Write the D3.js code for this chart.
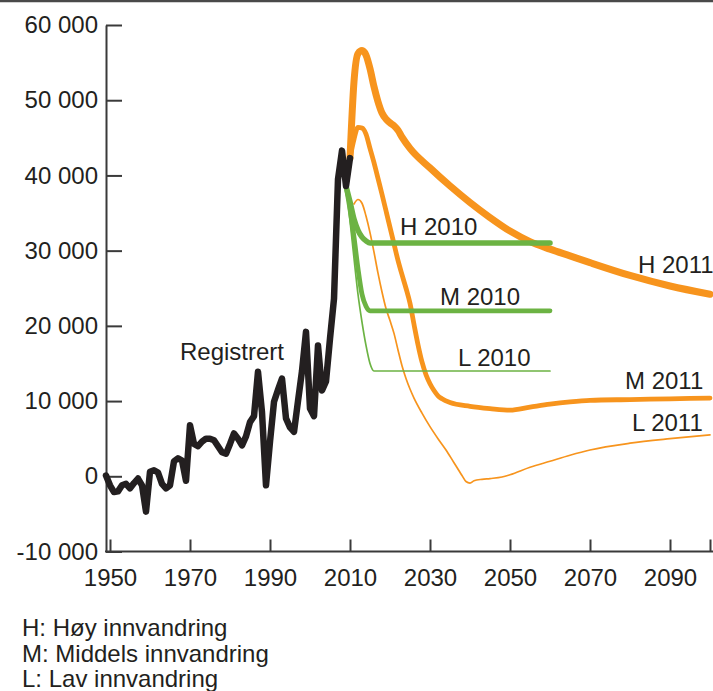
<!DOCTYPE html>
<html>
<head>
<meta charset="utf-8">
<script src="https://cdn.jsdelivr.net/npm/d3@7"></script>
<style>
  body { margin: 0; background: #fff; }
  svg { display: block; font-family: "Liberation Sans", Arial, sans-serif; }
  .lbl { font-size: 24px; fill: #231f20; }
  .axis text { font-size: 24px; fill: #231f20; font-family: "Liberation Sans", Arial, sans-serif; }
  .axis line, .axis path { stroke: #3a3a3a; stroke-width: 2; }
</style>
</head>
<body>
<div class="graph"></div>
<script>
// Nettoinnvandring, registrert og framskrevet

var registrert = [[1949, 100], [1950, -1200], [1951, -2100], [1952, -2000], [1953, -1200], [1954, -1000],
    [1955, -1600], [1956, -900], [1957, -300], [1958, -1200], [1959, -4700], [1960, 600], [1961, 800],
    [1962, 500], [1963, -1000], [1964, -1600], [1965, -1200], [1966, 2000], [1967, 2400], [1968, 2100],
    [1969, -600], [1970, 6800], [1971, 4300], [1972, 4000], [1973, 4600], [1974, 5000], [1975, 5000],
    [1976, 4800], [1977, 4000], [1978, 3200], [1979, 3000], [1980, 4300], [1981, 5700], [1982, 5000],
    [1983, 4100], [1984, 5300], [1985, 7200], [1986, 8000], [1987, 13900], [1988, 8500], [1989, -1200],
    [1990, 4600], [1991, 9900], [1992, 11500], [1993, 13000], [1994, 7700], [1995, 6500], [1996, 5900],
    [1997, 10000], [1998, 14000], [1999, 19200], [2000, 9000], [2001, 8000], [2002, 17400], [2003, 11400],
    [2004, 12600], [2005, 18300], [2006, 23600], [2007, 39500], [2008, 43300], [2009, 38600], [2010, 42300]];

var hoy2011 = [[2010, 42300], [2011, 52500], [2012, 56200], [2013, 56600], [2014, 56000], [2015, 54200],
    [2016, 51800], [2017, 49800], [2018, 48300], [2019, 47500], [2020, 47000], [2021, 46600], [2022, 46000],
    [2023, 45100], [2025, 43600], [2030, 41000], [2035, 38600], [2040, 36400], [2045, 34400], [2050, 32600],
    [2055, 31200], [2060, 30200], [2065, 29300], [2070, 28400], [2080, 26700], [2090, 25300], [2100, 24200]];

var middels2011 = [[2010, 42300], [2011, 44800], [2012, 46400], [2013, 46300], [2014, 45500], [2015, 43600],
    [2016, 41700], [2017, 39600], [2018, 37500], [2019, 35300], [2020, 33100], [2021, 30900], [2022, 28700],
    [2023, 26800], [2024, 25000], [2025, 23000], [2026, 20200], [2027, 17500], [2028, 15200], [2029, 13500],
    [2030, 12300], [2031, 11400], [2032, 10700], [2033, 10300], [2035, 9800], [2040, 9300], [2045, 9000],
    [2050, 8800], [2055, 9200], [2060, 9600], [2065, 9900], [2070, 10100], [2080, 10200], [2090, 10300],
    [2100, 10400]];

var lav2011 = [[2011, 36200], [2012, 36800], [2013, 36300], [2014, 34600], [2015, 32400], [2016, 29800],
    [2017, 27000], [2018, 24500], [2019, 22300], [2020, 20700], [2021, 19000], [2022, 16800], [2023, 14700],
    [2024, 13000], [2025, 11600], [2026, 10400], [2028, 8400], [2030, 6600], [2032, 5000], [2034, 3500],
    [2036, 1800], [2038, 100], [2039, -700], [2040, -900], [2041, -600], [2043, -400], [2045, -300],
    [2048, -100], [2050, 200], [2055, 1200], [2060, 2000], [2065, 2800], [2070, 3500], [2080, 4400],
    [2090, 5000], [2100, 5500]];

var hoy2010 = [[2009, 38600], [2010, 36500], [2011, 34200], [2012, 32700], [2013, 31800], [2014, 31300],
    [2015, 31000], [2060, 31000]];
var middels2010 = [[2009, 38600], [2010, 35500], [2011, 31800], [2012, 27600], [2013, 24200], [2014, 22600],
    [2015, 22000], [2060, 22000]];
var lav2010 = [[2009, 38600], [2010, 34000], [2011, 29000], [2012, 24200], [2013, 20500], [2014, 17400],
    [2015, 15000], [2016, 14000], [2060, 14000]];

var xTicks = [1950, 1970, 1990, 2010, 2030, 2050, 2070, 2090, 2100];
var xTickLabels = ["1950", "1970", "1990", "2010", "2030", "2050", "2070", "2090", ""];
var yTicks = [-10000, 0, 10000, 20000, 30000, 40000, 50000, 60000];
var yTickLabels = ["-10 000", "0", "10 000", "20 000", "30 000", "40 000", "50 000", "60 000"];

var seriesNames = ["Registrert", "H 2010", "M 2010", "L 2010", "H 2011", "M 2011", "L 2011"];
var legendLines = ["H: Høy innvandring", "M: Middels innvandring", "L: Lav innvandring"];

var width = 713,
    height = 691;

var x = d3.scaleLinear()
    .domain([1949, 2100])
    .range([106, 710]);

var y = d3.scaleLinear()
    .domain([-10000, 60000])
    .range([551.5, 25]);

var svg = d3.select('.graph').append('svg')
    .attr('width', width)
    .attr('height', height);

// top rule
svg.append('line')
    .attr('x1', 0).attr('x2', width)
    .attr('y1', 1).attr('y2', 1)
    .style('stroke', '#4a4a4a')
    .style('stroke-width', 2.5);

// axes, ticks pointing inwards
var xAxis = svg.append('g')
    .attr('class', 'axis')
    .attr('transform', 'translate(0,' + y(-10000) + ')')
    .call(d3.axisBottom(x)
        .tickValues(xTicks)
        .tickFormat(function (d, i) { return xTickLabels[i]; })
        .tickSizeInner(-12)
        .tickSizeOuter(0)
        .tickPadding(17));
xAxis.select('.domain').remove();
xAxis.append('line')
    .attr('x1', x(1949) - 1).attr('x2', width)
    .attr('y1', 0).attr('y2', 0);

var yAxis = svg.append('g')
    .attr('class', 'axis')
    .attr('transform', 'translate(' + x(1949) + ',0)')
    .call(d3.axisLeft(y)
        .tickValues(yTicks)
        .tickFormat(function (d, i) { return yTickLabels[i]; })
        .tickSizeInner(-16)
        .tickSizeOuter(0)
        .tickPadding(8));

var smooth = d3.line()
    .curve(d3.curveMonotoneX)
    .x(function (d) { return x(d[0]); })
    .y(function (d) { return y(d[1]); });

var straight = d3.line()
    .x(function (d) { return x(d[0]); })
    .y(function (d) { return y(d[1]); });

var orange = '#f7941d',
    green = '#6cb343';

var lines = [
    { data: lav2011, color: orange, w: 1.7 },
    { data: middels2011, color: orange, w: 4.8 },
    { data: hoy2011, color: orange, w: 7 },
    { data: lav2010, color: green, w: 1.7 },
    { data: middels2010, color: green, w: 4.8 },
    { data: hoy2010, color: green, w: 5.5 }
];

var paths = svg.append('g');
lines.forEach(function (l) {
    paths.append('path')
        .datum(l.data)
        .attr('d', smooth)
        .style('fill', 'none')
        .style('stroke', l.color)
        .style('stroke-width', l.w)
        .style('stroke-linejoin', 'round')
        .style('stroke-linecap', 'round');
});

paths.append('path')
    .datum(registrert)
    .attr('d', straight)
    .style('fill', 'none')
    .style('stroke', '#231f20')
    .style('stroke-width', 6.5)
    .style('stroke-linejoin', 'round')
    .style('stroke-linecap', 'round');

// labels next to the lines (x, baseline in px)
var labelPos = [[180, 360], [400, 235], [440, 305], [458, 366], [638, 273], [625, 389], [632, 431]];
svg.append('g').selectAll('text')
    .data(seriesNames)
    .enter().append('text')
    .attr('class', 'lbl')
    .attr('x', function (d, i) { return labelPos[i][0]; })
    .attr('y', function (d, i) { return labelPos[i][1]; })
    .text(function (d) { return d; });

// legend text under the chart
svg.append('g').selectAll('text')
    .data(legendLines)
    .enter().append('text')
    .attr('class', 'lbl')
    .attr('x', 22)
    .attr('y', function (d, i) { return 636 + i * 25.5; })
    .text(function (d) { return d; });
</script>
</body>
</html>
